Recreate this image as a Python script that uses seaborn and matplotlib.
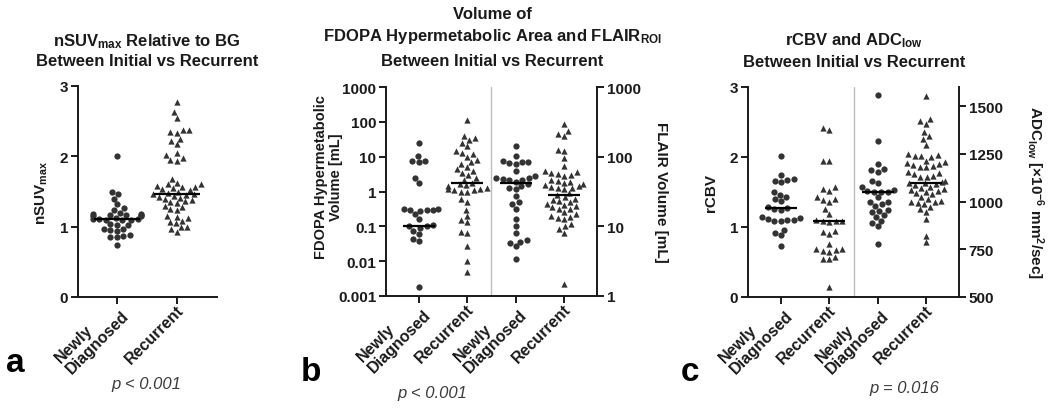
import numpy as np
import pandas as pd
import matplotlib
matplotlib.use("Agg")
import matplotlib.pyplot as plt
import matplotlib.transforms as mtransforms
import seaborn as sns

# ---------------- data ----------------
group_labels = ["Newly\nDiagnosed", "Recurrent"]

# panel a: nSUVmax
suv_nd = [2.01, 1.49, 1.47, 1.40, 1.32, 1.26, 1.24, 1.19, 1.18, 1.18, 1.17, 1.16, 1.16,
          1.15, 1.15, 1.12, 1.11, 1.11, 1.11, 1.10, 1.10, 1.09, 1.04, 1.03, 1.02, 0.97,
          0.96, 0.95, 0.94, 0.88, 0.87, 0.86, 0.85, 0.74]
suv_rec = [2.77, 2.63, 2.55, 2.38, 2.37, 2.35, 2.33, 2.25, 2.22, 2.17, 2.05, 2.02, 1.97,
           1.95, 1.94, 1.68, 1.62, 1.60, 1.60, 1.58, 1.57, 1.57, 1.55, 1.53, 1.52, 1.50,
           1.48, 1.47, 1.46, 1.45, 1.44, 1.42, 1.41, 1.40, 1.38, 1.36, 1.35, 1.33, 1.30,
           1.28, 1.25, 1.23, 1.15, 1.14, 1.13, 1.08, 1.07, 1.05, 1.00, 0.99, 0.97, 0.92]
suv_center = [1.11, 1.47]
suv_ticks = [0, 1, 2, 3]

# panel b: FDOPA hypermetabolic volume (left) and FLAIR ROI volume (right), mL
fdopa_nd = [25, 10.5, 7.6, 7.3, 7.0, 2.4, 1.7, 0.32, 0.31, 0.30, 0.30, 0.29, 0.28,
            0.22, 0.16, 0.11, 0.10, 0.10, 0.09, 0.075, 0.06, 0.042, 0.038, 0.0018]
fdopa_rec = [115, 40, 35, 30, 25, 20, 15, 13, 12, 10, 8, 7, 6, 5, 4.5, 4, 3.5, 3, 2.5,
             2.2, 1.8, 1.6, 1.5, 1.4, 1.3, 1.2, 1.2, 1.1, 1.1, 1.0, 1.0, 0.6, 0.5, 0.3,
             0.2, 0.15, 0.13, 0.07, 0.065, 0.028, 0.01, 0.005]
flair_nd = [141, 102, 88, 85, 83, 80, 78, 62, 52, 50, 49, 48, 47, 46, 44, 40, 38, 36,
            34, 27, 22, 21, 17.6, 12.6, 10.1, 8.1, 6.3, 6.0, 5.7, 5.2, 3.4]
flair_rec = [290, 230, 215, 195, 126, 120, 96, 73, 62, 60, 58, 56, 54, 52, 47, 45, 44,
             42, 40, 39, 38, 37, 36, 35, 34, 30, 28, 26, 25, 24, 23, 22, 21, 20, 19.5,
             19, 18, 17.6, 16, 15, 14, 13.5, 13, 12.6, 10.7, 10, 9.1, 8.1, 1.48]
fdopa_center = [0.105, 1.8]
flair_center = [42.5, 28]
fdopa_ticks = [0.001, 0.01, 0.1, 1, 10, 100, 1000]
fdopa_ticklabels = ["0.001", "0.01", "0.1", "1", "10", "100", "1000"]
flair_ticks = [1, 10, 100, 1000]
flair_ticklabels = ["1", "10", "100", "1000"]

# panel c: rCBV (left) and ADClow (right)
rcbv_nd = [2.02, 1.75, 1.68, 1.67, 1.66, 1.64, 1.50, 1.46, 1.43, 1.40, 1.37, 1.28, 1.27,
           1.26, 1.25, 1.15, 1.13, 1.12, 1.10, 1.10, 1.09, 1.08, 0.96, 0.92, 0.88, 0.73]
rcbv_rec = [2.42, 2.38, 1.95, 1.94, 1.57, 1.54, 1.52, 1.43, 1.40, 1.38, 1.36, 1.26, 1.19,
            1.10, 1.09, 1.09, 1.08, 1.07, 0.95, 0.93, 0.90, 0.76, 0.69, 0.68, 0.67, 0.66,
            0.65, 0.57, 0.55, 0.54, 0.14]
adc_nd = [1558, 1316, 1197, 1170, 1165, 1155, 1110, 1095, 1075, 1060, 1055, 1052, 1050,
          1048, 1022, 1000, 995, 985, 978, 955, 950, 945, 930, 920, 900, 885, 873, 778]
adc_rec = [1554, 1432, 1420, 1406, 1364, 1345, 1328, 1298, 1249, 1245, 1240, 1236, 1233,
           1214, 1208, 1200, 1195, 1190, 1185, 1182, 1179, 1155, 1150, 1142, 1135, 1130,
           1128, 1105, 1100, 1097, 1095, 1090, 1085, 1076, 1070, 1065, 1060, 1055, 1050,
           1045, 1040, 1024, 1015, 1005, 1000, 995, 990, 987, 971, 960, 945, 909, 821, 788]
rcbv_center = [1.27, 1.09]
adc_center = [1050, 1097]
rcbv_ticks = [0, 1, 2, 3]
adc_ticks = [500, 750, 1000, 1250, 1500]

# ---------------- style ----------------
sns.set_theme(style="ticks")
plt.rcParams["font.family"] = ["Liberation Sans", "DejaVu Sans"]
plt.rcParams["mathtext.fontset"] = "custom"
plt.rcParams["mathtext.rm"] = "Liberation Sans:bold"
plt.rcParams["mathtext.it"] = "Liberation Sans:bold"
plt.rcParams["mathtext.bf"] = "Liberation Sans:bold"
plt.rcParams["mathtext.default"] = "rm"

INK = "#1a1a1a"
MK = "#333333"
FS = 11
XFS = 11.5
YLFS = 11
MS = 4.5
LW = 1.4

fig = plt.figure(figsize=(10.5, 4.14), dpi=100)
W, H = 1050, 414
label_shift = mtransforms.ScaledTranslation(4 / 100, 2 / 100, fig.dpi_scale_trans)


def add_ax(l, r, t, b):
    return fig.add_axes([l / W, (H - b) / H, (r - l) / W, (b - t) / H])


def swarm(ax, values, cat, order, marker, log=False):
    df = pd.DataFrame({"g": [cat] * len(values), "v": values})
    sns.swarmplot(data=df, x="g", y="v", order=order, ax=ax, marker=marker,
                  color=MK, size=MS, linewidth=0, warn_thresh=1.0,
                  log_scale=(True if log else None))


def style_ax(ax):
    for s in ["top", "right"]:
        ax.spines[s].set_visible(False)
    for s in ["left", "bottom"]:
        ax.spines[s].set_linewidth(LW)
        ax.spines[s].set_color(INK)
    ax.tick_params(axis="both", width=LW, length=5, color=INK, labelsize=FS,
                   labelcolor=INK, pad=2)
    ax.tick_params(axis="x", pad=4)
    ax.minorticks_off()
    for lab in ax.get_yticklabels():
        lab.set_fontweight("bold")


def set_xlabels(ax, labels):
    ax.set_xticks(range(len(labels)))
    ax.set_xticklabels(labels)
    for lab in ax.get_xticklabels():
        lab.set_rotation(45)
        lab.set_ha("right")
        lab.set_va("center")
        lab.set_rotation_mode("anchor")
        lab.set_multialignment("left")
        lab.set_fontweight("bold")
        lab.set_fontsize(XFS)
        lab.set_linespacing(1.0)
        lab.set_transform(lab.get_transform() + label_shift)
    ax.set_xlabel("")


def center_lines(ax, centers, positions, half=0.36):
    for p, c in zip(positions, centers):
        ax.hlines(c, p - half, p + half, color="black", lw=1.6, zorder=5)


def style_twin(ax2):
    for s in ["top", "left", "bottom"]:
        ax2.spines[s].set_visible(False)
    ax2.spines["right"].set_linewidth(LW)
    ax2.spines["right"].set_color(INK)
    ax2.tick_params(axis="y", width=LW, length=5, color=INK, labelsize=FS,
                    labelcolor=INK, pad=2)
    ax2.minorticks_off()
    for lab in ax2.get_yticklabels():
        lab.set_fontweight("bold")


# ---------------- panel a ----------------
ord2 = ["nd", "rec"]
axa = add_ax(78, 217, 87, 298)
swarm(axa, suv_nd, "nd", ord2, "o")
swarm(axa, suv_rec, "rec", ord2, "^")
center_lines(axa, suv_center, [0, 1], 0.38)
axa.set_ylim(0, 3)
axa.set_yticks(suv_ticks)
axa.set_xlim(-0.65, 1.67)
style_ax(axa)
set_xlabels(axa, group_labels)
axa.set_ylabel(r"nSUV$_{max}$", fontsize=YLFS, fontweight="bold", color=INK)
axa.yaxis.set_label_coords(-0.20, 0.5)

# ---------------- panel b ----------------
ord4 = ["nd1", "rec1", "nd2", "rec2"]
axb = add_ax(386, 597, 88, 297)
swarm(axb, fdopa_nd, "nd1", ord4, "o", log=True)
swarm(axb, fdopa_rec, "rec1", ord4, "^", log=True)
center_lines(axb, fdopa_center, [0, 1], 0.33)
axb2 = axb.twinx()
swarm(axb2, flair_nd, "nd2", ord4, "o", log=True)
swarm(axb2, flair_rec, "rec2", ord4, "^", log=True)
center_lines(axb2, flair_center, [2, 3], 0.33)
axb.set_yscale("log")
axb2.set_yscale("log")
axb.set_ylim(0.001, 1000)
axb2.set_ylim(1, 1000)
axb.set_yticks(fdopa_ticks)
axb.set_yticklabels(fdopa_ticklabels)
axb2.set_yticks(flair_ticks)
axb2.set_yticklabels(flair_ticklabels)
axb.axvline(1.5, color="#bdbdbd", lw=1.0, zorder=0)
axb.set_xlim(-0.68, 3.68)
style_ax(axb)
style_twin(axb2)
set_xlabels(axb, group_labels * 2)
axb2.set_xlabel("")
axb.set_ylabel("FDOPA Hypermetabolic\nVolume [mL]", fontsize=10.5, fontweight="bold",
               color=INK, linespacing=1.1)
axb.yaxis.set_label_coords(-0.205, 0.575)
axb2.set_ylabel("FLAIR Volume [mL]", fontsize=YLFS, fontweight="bold", color=INK,
                rotation=270, va="bottom", rotation_mode="anchor")
axb2.yaxis.set_label_coords(1.27, 0.5)

# ---------------- panel c ----------------
axc = add_ax(748, 959, 88, 298)
swarm(axc, rcbv_nd, "nd1", ord4, "o")
swarm(axc, rcbv_rec, "rec1", ord4, "^")
center_lines(axc, rcbv_center, [0, 1], 0.33)
axc2 = axc.twinx()
swarm(axc2, adc_nd, "nd2", ord4, "o")
swarm(axc2, adc_rec, "rec2", ord4, "^")
center_lines(axc2, adc_center, [2, 3], 0.33)
axc.set_ylim(0, 3)
axc.set_yticks(rcbv_ticks)
axc2.set_ylim(500, 1600)
axc2.set_yticks(adc_ticks)
axc.axvline(1.5, color="#bdbdbd", lw=1.0, zorder=0)
axc.set_xlim(-0.68, 3.68)
style_ax(axc)
style_twin(axc2)
set_xlabels(axc, group_labels * 2)
axc2.set_xlabel("")
axc.set_ylabel("rCBV", fontsize=YLFS, fontweight="bold", color=INK)
axc.yaxis.set_label_coords(-0.14, 0.5)
axc2.set_ylabel(r"ADC$_{low}$ [×10$^{-6}$ mm$^{2}$/sec]", fontsize=YLFS,
                fontweight="bold", color=INK, rotation=270, va="bottom",
                rotation_mode="anchor")
axc2.yaxis.set_label_coords(1.31, 0.5)

# ---------------- titles / annotations ----------------
def ftext(x, y, s, **kw):
    fig.text(x / W, (H - y) / H, s, **kw)

tkw = dict(ha="center", va="baseline", fontsize=12, fontweight="bold", color=INK)
ftext(147, 46, r"nSUV$_{max}$ Relative to BG", **tkw)
ftext(147, 66, "Between Initial vs Recurrent", **tkw)
ftext(492, 19, "Volume of", **tkw)
ftext(492, 41, r"FDOPA Hypermetabolic Area and FLAIR$_{ROI}$", **tkw)
ftext(492, 66, "Between Initial vs Recurrent", **tkw)
ftext(854, 45, r"rCBV and ADC$_{low}$", **tkw)
ftext(854, 67, "Between Initial vs Recurrent", **tkw)

lkw = dict(ha="left", va="baseline", fontsize=24, fontweight="bold", color="black")
ftext(6, 372, "a", **lkw)
ftext(301, 381, "b", **lkw)
ftext(681, 381, "c", **lkw)

pkw = dict(ha="center", va="baseline", fontsize=12, style="italic", color="#3c3c3c")
ftext(146, 389, "p < 0.001", **pkw)
ftext(432, 398, "p < 0.001", **pkw)
ftext(904, 393, "p = 0.016", **pkw)

fig.savefig("out.png", dpi=100)
